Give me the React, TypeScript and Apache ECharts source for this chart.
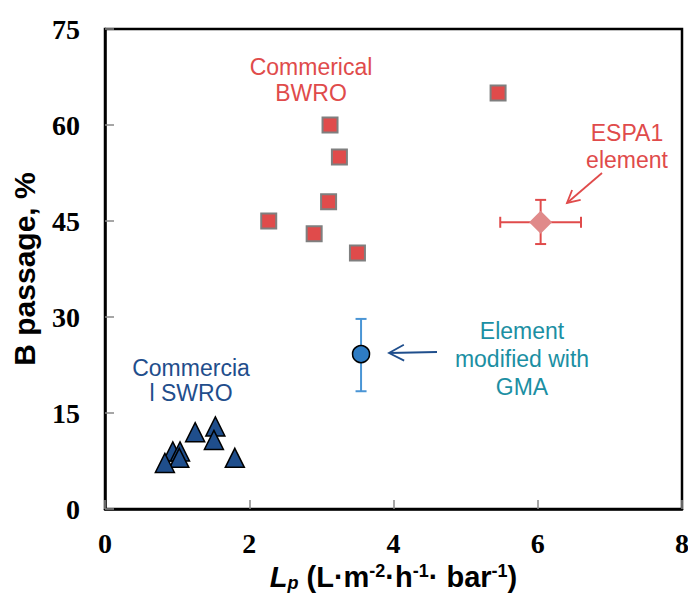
import React, { useEffect, useRef } from "react";
import * as echarts from "echarts";

// ---- data ----
const bwroX = [2.27, 2.9, 3.12, 3.25, 3.1, 3.5, 5.45];
const bwroY = [45, 43, 60, 55, 48, 40, 65];

const swroX = [1.25, 1.53, 1.51, 1.8, 0.94, 1.04, 1.03, 0.83];
const swroY = [12.0, 12.9, 10.8, 8.0, 9.0, 9.0, 8.0, 7.2];

const espaPoint = [6.04, 44.8];
const espaXErr = [5.48, 6.6];
const espaYErr = [41.4, 48.3];

const gmaPoint = [3.55, 24.2];
const gmaYErr = [18.4, 29.7];

const xTicks = [0, 2, 4, 6, 8];
const yTicks = [0, 15, 30, 45, 60, 75];

const RED = "#E04B4B";
const NAVY = "#1F4E8C";
const TEAL = "#1B8FA3";

export default function App() {
  const ref = useRef<HTMLDivElement>(null);

  useEffect(() => {
    if (!ref.current) return;
    const chart = echarts.init(ref.current, null, { renderer: "svg" });

    const errSeries = (
      name: string,
      pt: number[],
      xErr: number[] | null,
      yErr: number[] | null,
      color: string
    ) => ({
      type: "custom",
      name,
      z: 1,
      silent: true,
      data: [[pt[0], pt[1]]],
      renderItem: (params: any, api: any) => {
        const x = api.value(0);
        const y = api.value(1);
        const children: any[] = [];
        const cap = 5.5;
        const st = { stroke: color, lineWidth: 2 };
        if (yErr) {
          const a = api.coord([x, yErr[0]]);
          const b = api.coord([x, yErr[1]]);
          children.push({ type: "line", shape: { x1: a[0], y1: a[1], x2: b[0], y2: b[1] }, style: st });
          children.push({ type: "line", shape: { x1: a[0] - cap, y1: a[1], x2: a[0] + cap, y2: a[1] }, style: st });
          children.push({ type: "line", shape: { x1: b[0] - cap, y1: b[1], x2: b[0] + cap, y2: b[1] }, style: st });
        }
        if (xErr) {
          const a = api.coord([xErr[0], y]);
          const b = api.coord([xErr[1], y]);
          children.push({ type: "line", shape: { x1: a[0], y1: a[1], x2: b[0], y2: b[1] }, style: st });
          children.push({ type: "line", shape: { x1: a[0], y1: a[1] - cap, x2: a[0], y2: a[1] + cap }, style: st });
          children.push({ type: "line", shape: { x1: b[0], y1: b[1] - cap, x2: b[0], y2: b[1] + cap }, style: st });
        }
        return { type: "group", children };
      },
    });

    const arrow = (x1: number, y1: number, x2: number, y2: number, color: string, head: number) => {
      const dx = x1 - x2;
      const dy = y1 - y2;
      const len = Math.sqrt(dx * dx + dy * dy);
      const ux = dx / len;
      const uy = dy / len;
      const ang = (28 * Math.PI) / 180;
      const r = (c: number, s: number) => [ux * c - uy * s, ux * s + uy * c];
      const p1 = r(Math.cos(ang), Math.sin(ang));
      const p2 = r(Math.cos(ang), -Math.sin(ang));
      return [
        { type: "line", shape: { x1, y1, x2, y2 }, style: { stroke: color, lineWidth: 1.8 } },
        {
          type: "polyline",
          shape: {
            points: [
              [x2 + p1[0] * head, y2 + p1[1] * head],
              [x2, y2],
              [x2 + p2[0] * head, y2 + p2[1] * head],
            ],
          },
          style: { stroke: color, lineWidth: 1.8, fill: null },
        },
      ];
    };

    const annFont = "Liberation Sans, Arial, sans-serif";

    chart.setOption({
      animation: false,
      backgroundColor: "#fff",
      grid: {
        left: 105,
        top: 29,
        right: 6,
        bottom: 85,
        containLabel: false,
        outerBoundsMode: "none",
        show: true,
        borderColor: "#000",
        borderWidth: 2.5,
        backgroundColor: "transparent",
      },
      xAxis: {
        type: "value",
        min: xTicks[0],
        max: xTicks[xTicks.length - 1],
        interval: 2,
        splitLine: { show: false },
        axisLine: { show: true, lineStyle: { color: "#000", width: 2.5 } },
        axisTick: { show: true, inside: true, length: 9, lineStyle: { color: "#888", width: 1.5 } },
        axisLabel: {
          margin: 20,
          fontFamily: "Liberation Serif, Times New Roman, serif",
          fontWeight: "bold",
          fontSize: 28,
          color: "#000",
        },
        name: "{i|L}{sub|p}{n| (L·m}{sup|-2}{n|·h}{sup|-1}{n|· bar}{sup|-1}{n|)}",
        nameLocation: "middle",
        nameGap: 51,
        nameTextStyle: {
          rich: {
            i: { fontFamily: annFont, fontWeight: "bold", fontStyle: "italic", fontSize: 29, color: "#000", lineHeight: 30 },
            sub: { fontFamily: annFont, fontWeight: "bold", fontStyle: "italic", fontSize: 18, color: "#000", verticalAlign: "bottom", lineHeight: 30 },
            n: { fontFamily: annFont, fontWeight: "bold", fontSize: 29, color: "#000", lineHeight: 30 },
            sup: { fontFamily: annFont, fontWeight: "bold", fontSize: 18, color: "#000", verticalAlign: "top", lineHeight: 30 },
          },
        },
      },
      yAxis: {
        type: "value",
        min: yTicks[0],
        max: yTicks[yTicks.length - 1],
        interval: 15,
        splitLine: { show: false },
        axisLine: { show: true, lineStyle: { color: "#000", width: 2.5 } },
        axisTick: { show: true, inside: true, length: 9, lineStyle: { color: "#888", width: 1.5 } },
        axisLabel: {
          margin: 25,
          fontFamily: "Liberation Serif, Times New Roman, serif",
          fontWeight: "bold",
          fontSize: 28,
          color: "#000",
        },
        name: "B passage, %",
        nameLocation: "middle",
        nameGap: 66,
        nameTextStyle: {
          fontFamily: annFont,
          fontWeight: "bold",
          fontSize: 30,
          color: "#000",
        },
      },
      series: [
        errSeries("espaErr", espaPoint, espaXErr, espaYErr, RED),
        errSeries("gmaErr", gmaPoint, null, gmaYErr, "#4A95D5"),
        {
          type: "scatter",
          name: "Commercial BWRO",
          z: 3,
          symbol: "rect",
          symbolSize: 15,
          itemStyle: { color: RED, borderColor: "#7F7F7F", borderWidth: 2, opacity: 1 },
          data: bwroX.map((x, i) => [x, bwroY[i]]),
        },
        {
          type: "scatter",
          name: "Commercial SWRO",
          z: 3,
          symbol: "triangle",
          symbolSize: 19,
          itemStyle: { color: NAVY, borderColor: "#000", borderWidth: 1.5, opacity: 1 },
          data: swroX.map((x, i) => [x, swroY[i]]),
        },
        {
          type: "scatter",
          name: "ESPA1 element",
          z: 3,
          symbol: "diamond",
          symbolSize: 23,
          itemStyle: { color: "#E08A8A", opacity: 1 },
          data: [espaPoint],
        },
        {
          type: "scatter",
          name: "Element modified with GMA",
          z: 3,
          symbol: "circle",
          symbolSize: 17,
          itemStyle: { color: "#2E7CC4", borderColor: "#000", borderWidth: 1.5, opacity: 1 },
          data: [gmaPoint],
        },
      ],
      graphic: [
        {
          type: "text",
          x: 311,
          y: 80,
          style: {
            text: "Commerical\nBWRO",
            fill: RED,
            font: `23px ${annFont}`,
            lineHeight: 26,
            align: "center",
            verticalAlign: "middle",
          },
        },
        {
          type: "text",
          x: 627,
          y: 146,
          style: {
            text: "ESPA1\nelement",
            fill: RED,
            font: `23px ${annFont}`,
            lineHeight: 27,
            align: "center",
            verticalAlign: "middle",
          },
        },
        {
          type: "text",
          x: 522,
          y: 359,
          style: {
            text: "Element\nmodified with\nGMA",
            fill: TEAL,
            font: `23px ${annFont}`,
            lineHeight: 28,
            align: "center",
            verticalAlign: "middle",
          },
        },
        {
          type: "text",
          x: 191,
          y: 380,
          style: {
            text: "Commercia\nl SWRO",
            fill: NAVY,
            font: `23px ${annFont}`,
            lineHeight: 25,
            align: "center",
            verticalAlign: "middle",
          },
        },
        ...arrow(602, 173, 567, 203, RED, 14),
        ...arrow(437, 352, 389, 353, NAVY, 17),
      ],
    });

    return () => chart.dispose();
  }, []);

  return (
    <div
      ref={ref}
      style={{ position: "fixed", left: 0, top: 0, width: 688, height: 594, background: "#fff" }}
    />
  );
}
